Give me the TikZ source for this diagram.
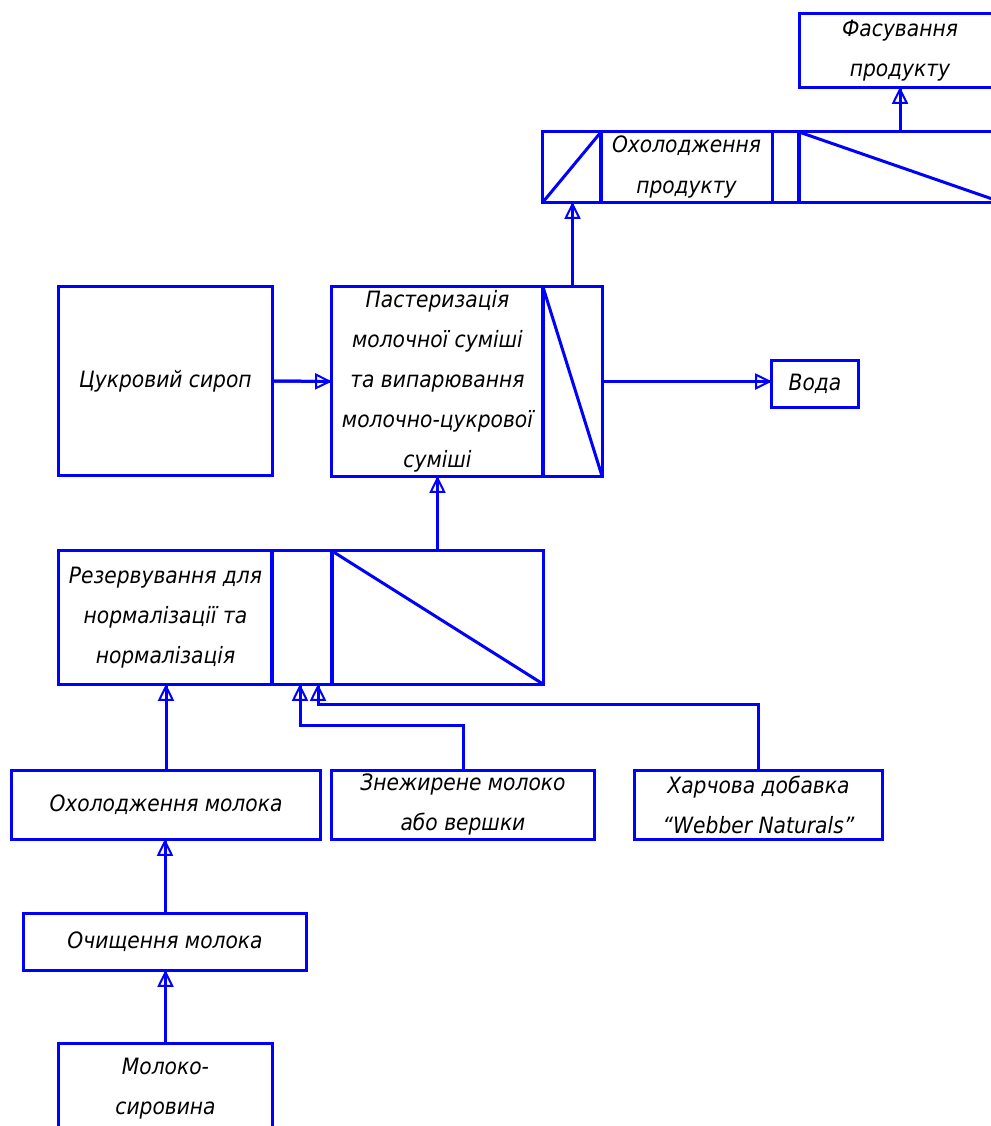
\documentclass[tikz,border=0pt]{standalone}
\usepackage{fontspec}
\setmainfont{DejaVu Sans Condensed}
\usetikzlibrary{arrows.meta}
\begin{document}
\begin{tikzpicture}[x=0.025cm,y=-0.025cm,
		blk/.style 2 args={draw=blue,line width=0.75mm,inner sep=0pt,outer sep=0pt,
			minimum width=#1*0.25mm,minimum height=#2*0.25mm,align=center,
			font=\fontsize{16}{28.5}\selectfont\itshape},
		flow/.style={draw=blue,line width=0.75mm,-{Triangle[open,length=4.2mm,width=4mm,line width=0.5mm]},
			postaction={draw=blue,line width=0.75mm,arrows=-}},
		diag/.style={draw=blue,line width=0.75mm}]
		\useasboundingbox (0,0) rectangle (991,1126);
		\clip (0,0) rectangle (991,1126);
		\node[blk={200}{73}] (pack) at (900,50.5) {Фасування\\продукту};
		\node[blk={58}{70}] (coolL) at (572,167) {};
		\node[blk={171}{70}] (coolT) at (686.5,167) {Охолодження\\продукту};
		\node[blk={27}{70}] (coolM) at (785.5,167) {};
		\node[blk={202}{70}] (coolR) at (900,167) {};
		\node[blk={213}{188}] (syrup) at (165.5,381) {Цукровий сироп};
		\node[blk={211}{189}] (past) at (437.5,381.5) {Пастеризація\\молочної суміші\\та випарювання\\молочно-цукрової\\суміші};
		\node[blk={59}{189}] (pastR) at (572.5,381.5) {};
		\node[blk={86}{47}] (water) at (815,383.5) {Вода};
		\node[blk={213}{133}] (res) at (165.5,617.5) {Резервування для\\нормалізації та\\нормалізація};
		\node[blk={60}{133}] (resM) at (302,617.5) {};
		\node[blk={211}{133}] (resR) at (437.5,617.5) {};
		\node[blk={308}{69}] (coolmilk) at (166,804.5) {Охолодження молока};
		\node[blk={262}{69}] (skim) at (463,804.5) {Знежирене молоко\\або вершки};
		\node[blk={247}{69}] (additive) at (758.5,804.5) {Харчова добавка\\“Webber Naturals”};
		\node[blk={282}{57}] (clean) at (165,941.5) {Очищення молока};
		\node[blk={213}{92}] (raw) at (165.5,1089) {Молоко-\\сировина};
		\draw[diag] (coolL.south west) -- (coolL.north east);
		\draw[diag] (coolR.north west) -- (coolR.south east);
		\draw[diag] (pastR.north west) -- (pastR.south east);
		\draw[diag] (resR.north west) -- (resR.south east);
		\draw[flow] (raw.north) -- (raw.north |- clean.south);
		\draw[flow] (clean.north) -- (clean.north |- coolmilk.south);
		\draw[flow] (coolmilk.north) -- (coolmilk.north |- res.south);
		\draw[flow] (skim.north) -- ++(0,-45) -| ([xshift=-0.5mm]resM.south);
		\draw[flow] (additive.north) -- ++(0,-66) -| ([xshift=4mm]resM.south);
		\draw[flow] (resR.north) -- (past.south);
		\draw[flow] (syrup.east) -- (past.west);
		\draw[flow] (pastR.east) -- (pastR.east -| water.west);
		\draw[flow] (pastR.north) -- (pastR.north |- coolL.south);
		\draw[flow] (coolR.north) -- (coolR.north |- pack.south);
	\end{tikzpicture}
\end{document}
